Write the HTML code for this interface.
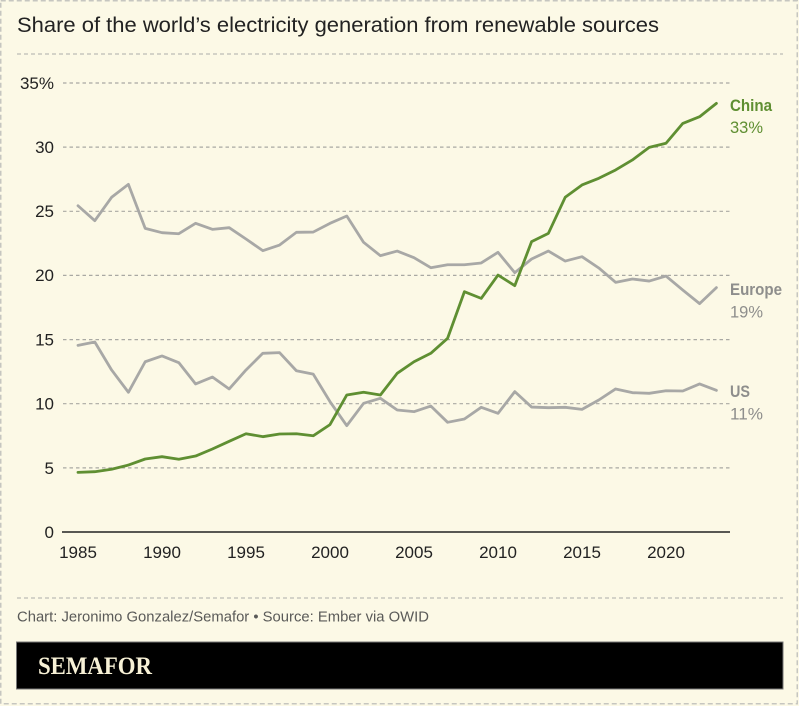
<!DOCTYPE html>
<html><head><meta charset="utf-8"><style>
html,body{margin:0;padding:0;background:#fcf9e6;}
svg{display:block;}
text{font-family:"Liberation Sans",Arial,sans-serif;}
</style></head><body>
<svg width="799" height="706" viewBox="0 0 799 706" xmlns="http://www.w3.org/2000/svg">
<rect x="0" y="0" width="799" height="706" fill="#fcf9e6"/>
<rect x="0.75" y="0.75" width="796.5" height="703" fill="none" stroke="#c6c6c0" stroke-width="1.5" stroke-dasharray="5 3"/>
<text x="17" y="32" font-size="21" fill="#222" textLength="642" lengthAdjust="spacingAndGlyphs">Share of the world’s electricity generation from renewable sources</text>
<line x1="17" y1="54" x2="783" y2="54" stroke="#bdbdb6" stroke-width="1.2" stroke-dasharray="4 3"/>
<g stroke="#a9a9a3" stroke-width="1.2" stroke-dasharray="3.5 3">
<line x1="63" y1="83" x2="730" y2="83"/>
<line x1="63" y1="147.1" x2="730" y2="147.1"/>
<line x1="63" y1="211.3" x2="730" y2="211.3"/>
<line x1="63" y1="275.4" x2="730" y2="275.4"/>
<line x1="63" y1="339.6" x2="730" y2="339.6"/>
<line x1="63" y1="403.7" x2="730" y2="403.7"/>
<line x1="63" y1="467.9" x2="730" y2="467.9"/>
</g>
<line x1="62" y1="532" x2="730" y2="532" stroke="#222" stroke-width="1.6"/>
<g font-size="17" fill="#222" text-anchor="end">
<text x="54" y="89">35%</text>
<text x="54" y="153">30</text>
<text x="54" y="217">25</text>
<text x="54" y="281">20</text>
<text x="54" y="345.5">15</text>
<text x="54" y="409.7">10</text>
<text x="54" y="474">5</text>
<text x="54" y="538">0</text>
</g>
<g font-size="17" fill="#222" text-anchor="middle">
<text x="78" y="558">1985</text>
<text x="162" y="558">1990</text>
<text x="246" y="558">1995</text>
<text x="330" y="558">2000</text>
<text x="414" y="558">2005</text>
<text x="498" y="558">2010</text>
<text x="582" y="558">2015</text>
<text x="666" y="558">2020</text>
</g>
<g transform="translate(78,532) scale(16.8,-12.829)" fill="none" stroke-linejoin="round" stroke-linecap="round">
<polyline vector-effect="non-scaling-stroke" stroke="#a8a8a6" stroke-width="2.8" points="0,25.43 1,24.27 2,26.09 3,27.1 4,23.67 5,23.33 6,23.25 7,24.06 8,23.59 9,23.72 10,22.84 11,21.93 12,22.37 13,23.36 14,23.38 15,24.06 16,24.63 17,22.58 18,21.54 19,21.9 20,21.38 21,20.6 22,20.83 23,20.83 24,20.97 25,21.8 26,20.21 27,21.28 28,21.9 29,21.12 30,21.46 31,20.58 32,19.46 33,19.72 34,19.56 35,19.95 36,18.86 37,17.8 38,19.05"/>
<polyline vector-effect="non-scaling-stroke" stroke="#a8a8a6" stroke-width="2.8" points="0,14.55 1,14.81 2,12.63 3,10.89 4,13.27 5,13.72 6,13.2 7,11.54 8,12.08 9,11.15 10,12.63 11,13.93 12,13.98 13,12.57 14,12.31 15,10.16 16,8.29 17,10.03 18,10.42 19,9.51 20,9.38 21,9.82 22,8.55 23,8.81 24,9.72 25,9.25 26,10.94 27,9.74 28,9.69 29,9.72 30,9.56 31,10.29 32,11.15 33,10.86 34,10.81 35,11.01 36,10.99 37,11.54 38,11.04"/>
<polyline vector-effect="non-scaling-stroke" stroke="#5f8f32" stroke-width="2.8" points="0,4.65 1,4.7 2,4.89 3,5.22 4,5.69 5,5.87 6,5.67 7,5.92 8,6.47 9,7.07 10,7.66 11,7.43 12,7.64 13,7.66 14,7.5 15,8.37 16,10.68 17,10.89 18,10.68 19,12.37 20,13.27 21,13.93 22,15.1 23,18.73 24,18.21 25,20.03 26,19.2 27,22.63 28,23.28 29,26.09 30,27.05 31,27.57 32,28.22 33,29.0 34,29.98 35,30.3 36,31.85 37,32.37 38,33.41"/>
</g>
<g font-size="17">
<text x="730" y="111" font-weight="bold" fill="#5f8f32" textLength="42" lengthAdjust="spacingAndGlyphs">China</text>
<text x="730" y="133" fill="#5f8f32" textLength="33" lengthAdjust="spacingAndGlyphs">33%</text>
<text x="730" y="295" font-weight="bold" fill="#8e8e8c" textLength="52" lengthAdjust="spacingAndGlyphs">Europe</text>
<text x="730" y="317.5" fill="#8e8e8c" textLength="33" lengthAdjust="spacingAndGlyphs">19%</text>
<text x="730" y="397" font-weight="bold" fill="#8e8e8c" textLength="20" lengthAdjust="spacingAndGlyphs">US</text>
<text x="730" y="419.5" fill="#8e8e8c" textLength="33" lengthAdjust="spacingAndGlyphs">11%</text>
</g>
<line x1="17" y1="598" x2="783" y2="598" stroke="#bdbdb6" stroke-width="1.2" stroke-dasharray="4 3"/>
<text x="17" y="621.5" font-size="15" fill="#5a5a58" textLength="412" lengthAdjust="spacingAndGlyphs">Chart: Jeronimo Gonzalez/Semafor • Source: Ember via OWID</text>
<rect x="16.5" y="642" width="766.5" height="47" fill="#000" stroke="#777" stroke-width="1"/>
<text x="38" y="674" style="font-family:'Liberation Serif','DejaVu Serif',serif;font-weight:bold;font-size:25px;" fill="#f7f1d6" textLength="114" lengthAdjust="spacingAndGlyphs">SEMAFOR</text>
</svg>
</body></html>
